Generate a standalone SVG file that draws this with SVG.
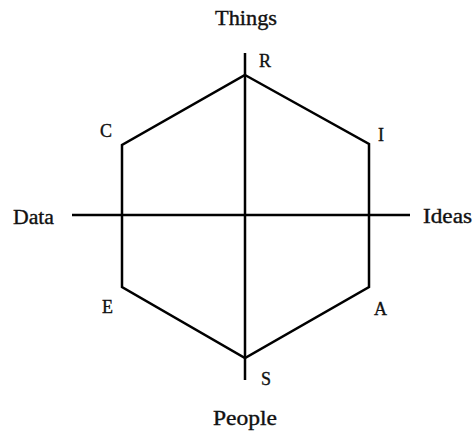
<svg xmlns="http://www.w3.org/2000/svg" width="473" height="432" viewBox="0 0 473 432">
<style>
.ln{stroke:#000;stroke-width:2.5;fill:none;stroke-linecap:butt;stroke-linejoin:miter}
.t{font-family:"Liberation Serif","Times New Roman",serif;fill:#111;stroke:#111;stroke-width:0.35;font-size:18px}
.ax{font-family:"Liberation Serif","Times New Roman",serif;fill:#111;stroke:#111;stroke-width:0.35;font-size:20px}
</style>
<rect width="473" height="432" fill="#fff"/>
<g id="connectors">
<polygon class="ln" points="245,75 369,144 369,287 245,358 122,287 122,145"/>
<line class="ln" x1="245" y1="53" x2="245" y2="380"/>
<line class="ln" x1="72" y1="215" x2="410" y2="215"/>
</g>
<g id="node-R"><text class="t" x="259" y="67">R</text></g>
<g id="node-I"><text class="t" x="378" y="141">I</text></g>
<g id="node-A"><text class="t" x="374" y="315">A</text></g>
<g id="node-S"><text class="t" x="261" y="385">S</text></g>
<g id="node-E"><text class="t" x="102" y="313">E</text></g>
<g id="node-C"><text class="t" x="100" y="137">C</text></g>
<g id="axis-things"><text class="ax" x="215" y="25" textLength="62" lengthAdjust="spacingAndGlyphs">Things</text></g>
<g id="axis-people"><text class="ax" x="213" y="425" textLength="64" lengthAdjust="spacingAndGlyphs">People</text></g>
<g id="axis-data"><text class="ax" x="13" y="224" textLength="41" lengthAdjust="spacingAndGlyphs">Data</text></g>
<g id="axis-ideas"><text class="ax" x="423" y="223" textLength="49" lengthAdjust="spacingAndGlyphs">Ideas</text></g>
</svg>
